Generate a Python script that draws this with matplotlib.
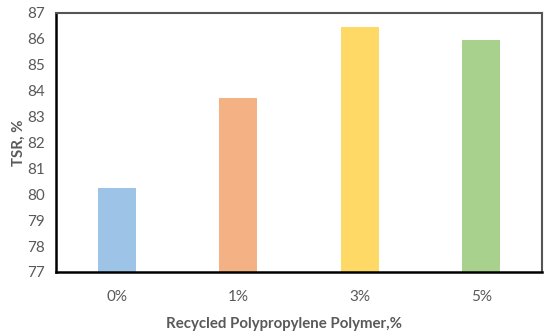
import matplotlib
matplotlib.use('Agg')
import matplotlib.pyplot as plt

categories = ['0%', '1%', '3%', '5%']
tsr = [80.23, 83.72, 86.45, 85.96]
colors = ['#9DC3E6', '#F4B183', '#FFD966', '#A9D18E']

plt.rcParams['font.family'] = ['Lato', 'DejaVu Sans']

fig = plt.figure(figsize=(5.5, 3.36), dpi=100)
ax = fig.add_axes([56 / 550, 1 - 272 / 336, 486 / 550, 259 / 336])

x = range(len(categories))
ax.bar(x, [v - 77 for v in tsr], bottom=77, width=0.31, color=colors)

ax.set_xlim(-0.5, len(categories) - 0.5)
ax.set_ylim(77, 87)
ax.set_yticks(range(77, 88))
ax.set_xticks(list(x))
ax.set_xticklabels(categories)
ax.tick_params(length=0, labelsize=11, colors='#595959')
ax.tick_params(axis='x', pad=13)
ax.tick_params(axis='y', pad=8)

for side in ['left', 'bottom']:
    ax.spines[side].set_color('#000000')
    ax.spines[side].set_linewidth(1.8)
for side in ['top', 'right']:
    ax.spines[side].set_color('#555555')
    ax.spines[side].set_linewidth(1.5)

ax.set_xlabel('Recycled Polypropylene Polymer,%', fontsize=10.8,
              fontweight='bold', color='#595959', labelpad=9)
# the axis title sits a little left of centre in the original
ax.xaxis.label.set_x(0.469)
ax.set_ylabel('TSR, %', fontsize=10.8, fontweight='bold', color='#595959',
              labelpad=1)

fig.savefig('out.png', dpi=100)
